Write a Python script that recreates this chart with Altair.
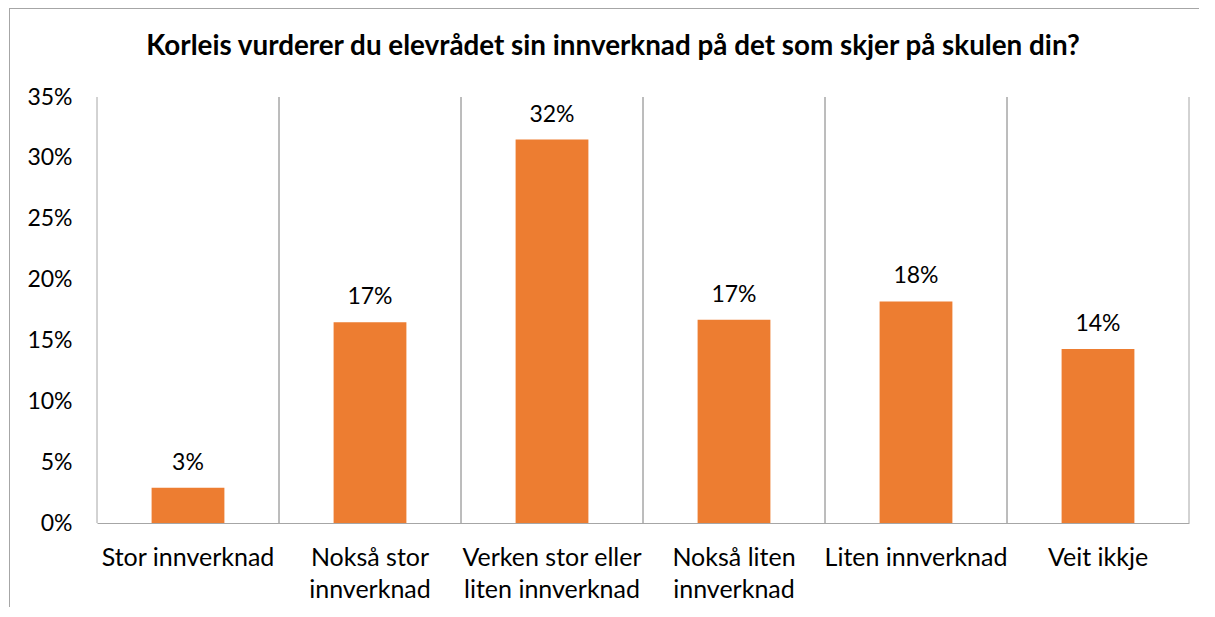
import json
import altair as alt
import pandas as pd

categories = [
    "Stor innverknad",
    "Nokså stor innverknad",
    "Verken stor eller liten innverknad",
    "Nokså liten innverknad",
    "Liten innverknad",
    "Veit ikkje",
]
wrapped = [
    ["Stor innverknad"],
    ["Nokså stor", "innverknad"],
    ["Verken stor eller", "liten innverknad"],
    ["Nokså liten", "innverknad"],
    ["Liten innverknad"],
    ["Veit ikkje"],
]
values = [0.029, 0.165, 0.315, 0.167, 0.182, 0.143]
y_ticks = [0, 0.05, 0.10, 0.15, 0.20, 0.25, 0.30, 0.35]
title = "Korleis vurderer du elevrådet sin innverknad på det som skjer på skulen din?"

df = pd.DataFrame({"cat": categories, "val": values})

FONT = "Lato"
GRID = "#A6A6A6"
W, H = 1092, 426

label_map = json.dumps(dict(zip(categories, wrapped)), ensure_ascii=False)

x_enc = alt.X(
    "cat:N",
    sort=categories,
    scale=alt.Scale(paddingInner=0, paddingOuter=0),
    axis=alt.Axis(
        title=None, labelAngle=0, ticks=False, domain=True, domainColor=GRID,
        labelFont=FONT, labelFontSize=25, labelColor="#000000", labelPadding=22,
        labelLineHeight=32, labelLimit=400,
        labelExpr=f"{label_map}[datum.value] || datum.label",
    ),
)
y_enc = alt.Y(
    "val:Q",
    scale=alt.Scale(domain=[0, 0.35]),
    axis=alt.Axis(
        title=None, format=".0%", values=y_ticks, grid=False, domain=False,
        ticks=False, labelFont=FONT, labelFontSize=23, labelColor="#000000",
        labelPadding=25,
    ),
)

base = alt.Chart(df)

grid_start = base.mark_rule(color=GRID, strokeWidth=1).encode(
    x=alt.X("cat:N", sort=categories, bandPosition=0)
)
grid_end = base.mark_rule(color=GRID, strokeWidth=1).encode(
    x=alt.X("cat:N", sort=categories, bandPosition=1)
)
bars = base.mark_bar(color="#ED7D31", width=alt.RelativeBandSize(0.4)).encode(
    x=x_enc, y=y_enc
)
labels = base.mark_text(
    font=FONT, fontSize=23, color="#000000", baseline="alphabetic", dy=-18
).encode(
    x=alt.X("cat:N", sort=categories),
    y="val:Q",
    text=alt.Text("val:Q", format=".0%"),
)

frame_top = base.mark_rule(color=GRID).encode(
    x=alt.value(-88), x2=alt.value(W + 30), y=alt.value(-88.5)
)
frame_left = base.mark_rule(color=GRID).encode(
    x=alt.value(-87.5), y=alt.value(-89), y2=alt.value(H + 90)
)

chart = (
    alt.layer(frame_top, frame_left, bars, grid_start, grid_end, labels)
    .properties(
        width=W,
        height=H,
        autosize=alt.AutoSizeParams(type="none"),
        padding={"left": 89, "top": 89, "right": 10, "bottom": 84},
        title=alt.TitleParams(
            title, font=FONT, fontSize=27.8, fontWeight="bold", color="#000000",
            anchor="middle", dx=-30, offset=-53,
        ),
    )
    .configure_view(stroke=None)
)

chart.save("out.html", embed_options={"renderer": "svg", "actions": False})
